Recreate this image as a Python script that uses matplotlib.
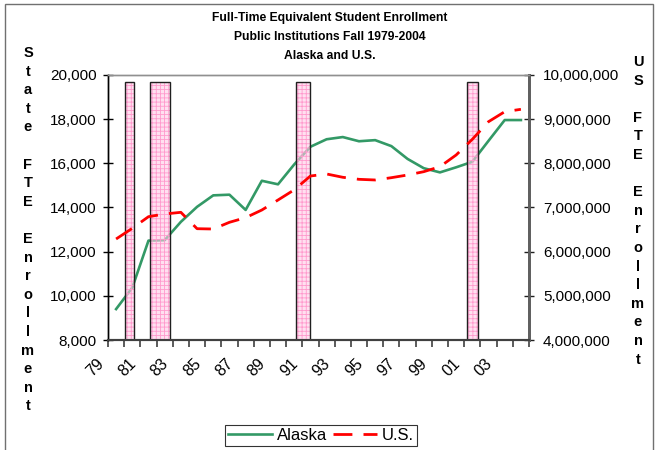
import matplotlib
matplotlib.use("Agg")
import matplotlib.pyplot as plt
from matplotlib.ticker import FuncFormatter, MultipleLocator
from matplotlib.transforms import ScaledTranslation, blended_transform_factory
from matplotlib.patches import Rectangle

plt.rcParams['font.family'] = ['Liberation Sans', 'DejaVu Sans']
plt.rcParams['hatch.linewidth'] = 0.6

# fall enrollment, 1979-2004
years = list(range(1979, 2005))
alaska = [9400, 10370, 12500, 12520, 13350, 14030, 14550, 14580, 13890, 15210,
          15050, 15950, 16750, 17090, 17190, 17000, 17050, 16780, 16200, 15780,
          15590, 15820, 16070, 17020, 17960, 17960]
us = [6287000, 6529000, 6792000, 6853000, 6891000, 6520000, 6513000, 6665000,
      6770000, 6943000, 7170000, 7400000, 7713000, 7759000, 7684000, 7638000,
      7623000, 7675000, 7736000, 7811000, 7924000, 8189000, 8544000, 8943000,
      9169000, 9223000]

# recession periods (shaded bars)
rec_start = [1980.08, 1981.58, 1990.6, 2001.17]
rec_end = [1980.58, 1982.83, 1991.48, 2001.83]
bar_top = 19700

tick_years = years[::2]
tick_labels = ["%02d" % (y % 100) for y in tick_years]

W, H = 660, 450
fig = plt.figure(figsize=(W / 100, H / 100), dpi=100)
ax = fig.add_axes([108 / W, 1 - 340 / H, 421 / W, 265 / H])
ax2 = ax.twinx()

xs = [y + 0.5 for y in years]
green = '#339966'
ax.plot(xs, alaska, color=green, lw=1.9, zorder=2, label='Alaska')

for s, e in zip(rec_start, rec_end):
    ax.bar(s, bar_top - 8000, width=e - s, bottom=8000, align='edge',
           facecolor=(1, 0.8, 0.9, 0.6), edgecolor='#FF9ACD', hatch='++++',
           linewidth=0, zorder=3)
    ax.bar(s, bar_top - 8000, width=e - s, bottom=8000, align='edge',
           fill=False, edgecolor='#202020', linewidth=1.0, zorder=4)

ax2.plot(xs, us, color='#FF0000', lw=2.0, dashes=(6.8, 4), zorder=5,
         label='U.S.')

ax.set_xlim(1979, 2005)
ax.set_ylim(8000, 20000)
ax2.set_ylim(4000000, 10000000)

ax.yaxis.set_major_locator(MultipleLocator(2000))
ax2.yaxis.set_major_locator(MultipleLocator(1000000))
fmt = FuncFormatter(lambda v, p: '{:,.0f}'.format(v))
ax.yaxis.set_major_formatter(fmt)
ax2.yaxis.set_major_formatter(fmt)

ax.xaxis.set_major_locator(MultipleLocator(1))
ax.set_xticklabels([])
ax.tick_params(axis='x', direction='out', length=5, width=1.2, color='#404040')
ax.tick_params(axis='y', direction='inout', length=7, width=1, pad=4.5,
               labelsize=11, color='black')
ax2.tick_params(axis='y', direction='inout', length=7, width=1, pad=6.5,
                labelsize=11, color='#202020')

# rotated year labels
trans = blended_transform_factory(ax.transData, ax.transAxes)
off = ScaledTranslation(-15 / 100, -21 / 100, fig.dpi_scale_trans)
for y, lab in zip(tick_years, tick_labels):
    ax.text(y + 0.5, 0, lab, transform=trans + off, rotation=45,
            rotation_mode='anchor', ha='right', va='center', fontsize=11.5)

for a in (ax, ax2):
    a.spines['top'].set_color('#909090')
    a.spines['top'].set_linewidth(1)
    a.spines['left'].set_color('black')
    a.spines['left'].set_linewidth(1)
    a.spines['bottom'].set_color('#404040')
    a.spines['bottom'].set_linewidth(1.5)
    a.spines['right'].set_color('#606060')
    a.spines['right'].set_linewidth(2)

# title
title = ["Full-Time Equivalent Student Enrollment",
         "Public Institutions Fall 1979-2004",
         "Alaska and U.S."]
for i, t in enumerate(title):
    fig.text(330 / W, 1 - (18 + 19 * i) / H, t, ha='center', va='center',
             fontsize=8.7, fontweight='bold')

# stacked axis titles
left_letters = list("State") + [""] + list("FTE") + [""] + list("Enrollment")
right_letters = list("US") + [""] + list("FTE") + [""] + list("Enrollment")
step = 18.6
for i, ch in enumerate(left_letters):
    fig.text(28 / W, 1 - (53 + step * i) / H, ch, ha='center', va='center',
             fontsize=10.5, fontweight='bold')
for i, ch in enumerate(right_letters):
    fig.text(638 / W, 1 - (62 + step * i) / H, ch, ha='center', va='center',
             fontsize=10.5, fontweight='bold')

# chart border
fig.patches.append(Rectangle((5 / W, -0.05), 648 / W, 1.05 - 4 / H,
                             transform=fig.transFigure, fill=False,
                             edgecolor='#707070', linewidth=1))

h1, l1 = ax.get_legend_handles_labels()
h2, l2 = ax2.get_legend_handles_labels()
leg = fig.legend(h1 + h2, l1 + l2, loc='center', ncol=2,
                 bbox_to_anchor=(321 / W, 1 - 435.5 / H), fontsize=12,
                 frameon=True, fancybox=False, edgecolor='black',
                 handlelength=2.6, handletextpad=0.3, columnspacing=0.4,
                 borderpad=0.2, borderaxespad=0)
leg.get_frame().set_linewidth(0.8)

fig.savefig('out.png', dpi=100)
